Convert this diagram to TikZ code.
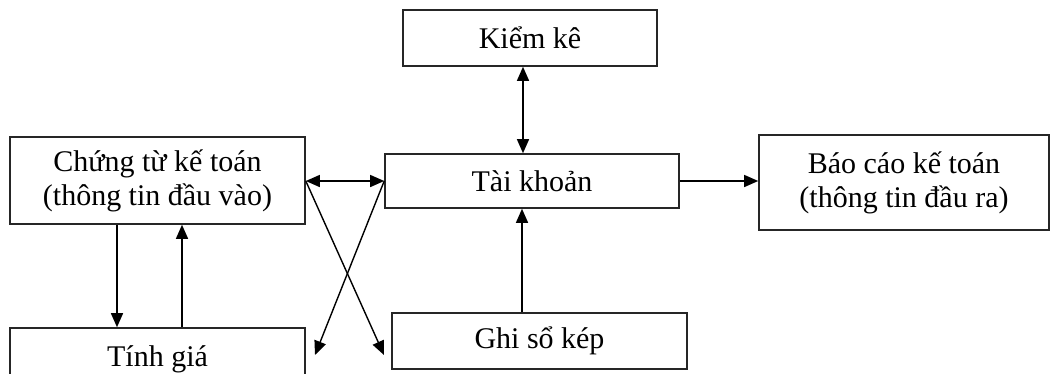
\documentclass[tikz,border=0pt]{standalone}
\usepackage{fontspec}
\setmainfont{Liberation Serif}
\usetikzlibrary{arrows.meta}
\begin{document}
\begin{tikzpicture}[x=1pt,y=-1pt,
  box/.style={draw=black!85,line width=1.6pt,rectangle,inner sep=0pt,align=center,
    font=\fontsize{30}{34}\selectfont},
  tip/.style={Triangle[length=14pt,width=12pt]},
  link/.style={line width=1.4pt,-{Triangle[length=14pt,width=12pt]}},
  dlink/.style={line width=1.4pt,{Triangle[length=14pt,width=12pt]}-{Triangle[length=14pt,width=12pt]}}]
\useasboundingbox (0,0) rectangle (1050,373);
\clip (0,0) rectangle (1050,373);
% boxes
\node[box,minimum width=295,minimum height=87] (ct) at (157.5,180.5) {Chứng từ kế toán\\(thông tin đầu vào)};
\node[box,minimum width=295,minimum height=62] (tg) at (157.5,359) {Tính giá};
\node[box,minimum width=254,minimum height=56] (kk) at (530,38) {Kiểm kê};
\node[box,minimum width=294,minimum height=54] (tk) at (532,181) {Tài khoản};
\node[box,minimum width=295,minimum height=56] (gs) at (539.5,341) {Ghi sổ kép};
\node[box,minimum width=290,minimum height=95] (bc) at (904,182.5) {Báo cáo kế toán\\(thông tin đầu ra)};
% free ends of the crossing arrows
\coordinate (crossA) at (384,355);
\coordinate (crossB) at (315,355);
% connectors
\draw[dlink] (ct.east |- tk.west) -- (tk.west);
\draw[link] (ct.east |- tk.west) -- (crossA);
\draw[link] (tk.west) -- (crossB);
\draw[dlink] ([xshift=-7pt]kk.south) -- ([xshift=-7pt]kk.south |- tk.north);
\draw[link] ([xshift=-17.5pt]gs.north) -- ([xshift=-17.5pt]gs.north |- tk.south);
\draw[link] (tk.east) -- (tk.east -| bc.west);
\draw[link] ([xshift=-40.5pt]ct.south) -- ([xshift=-40.5pt]ct.south |- tg.north);
\draw[link] ([xshift=24.5pt]tg.north) -- ([xshift=24.5pt]tg.north |- ct.south);
\end{tikzpicture}
\end{document}
